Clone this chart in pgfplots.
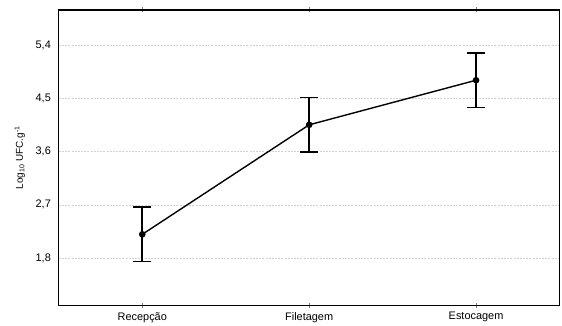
\documentclass[border=0pt]{standalone}
\usepackage{pgfplots}
\pgfplotsset{compat=1.18}
\usepackage{fontspec}
\setmainfont{Liberation Sans}
\begin{document}
\begin{tikzpicture}
\begin{axis}[
  scale only axis,
  width=502bp, height=296bp,
  xmin=-0.5, xmax=2.5,
  ymin=1.0, ymax=6.0,
  xtick={0,1,2},
  xticklabels={Recepção,Filetagem,Estocagem},
  ytick={1.8,2.7,3.6,4.5,5.4},
  /pgf/number format/fixed,
  /pgf/number format/fixed zerofill,
  /pgf/number format/precision=1,
  /pgf/number format/use comma,
  /pgf/number format/assume math mode=true,
  ticklabel style={font=\fontsize{11}{13}\selectfont},
  tick align=center,
  major tick length=5bp,
  ytick style={draw=none},
  xtick style={line width=0.8pt},
  axis line style={line width=1.3pt},
  ymajorgrids,
  grid style={gray!35, dash pattern=on 2pt off 1.2pt, line width=0.5pt},
  ylabel={Log\textsubscript{10} UFC.g\textsuperscript{-1}},
  ylabel style={font=\fontsize{11}{13}\selectfont},
  every axis y label/.style={at={(axis description cs:-0.078,0.5)},rotate=90,anchor=center},
  yticklabel style={xshift=-2bp},
  xticklabel style={yshift=-1bp},
  clip=false,
]
\addplot[black, line width=1.4pt, mark=*, mark size=2.6pt,
  error bars/.cd, y dir=both, y explicit,
  error bar style={line width=1.6pt, black, solid},
  error mark options={rotate=90, mark size=9bp, line width=1.6pt}]
  coordinates {
    (0,2.20) +- (0,0.46)
    (1,4.055) +- (0,0.46)
    (2,4.81) +- (0,0.465)
  };
\end{axis}
\path ([shift={(-59bp,-19bp)}]current axis.south west) rectangle ([shift={(0bp,10bp)}]current axis.north east);
\end{tikzpicture}
\end{document}
